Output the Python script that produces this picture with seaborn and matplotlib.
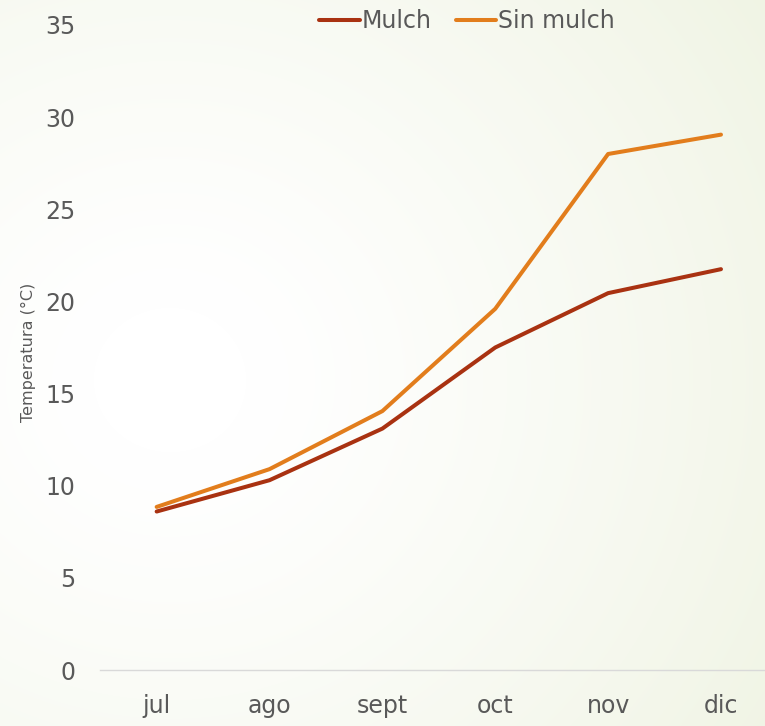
import numpy as np
import pandas as pd
import matplotlib
matplotlib.use("Agg")
import matplotlib.pyplot as plt
import seaborn as sns

months = ["jul", "ago", "sept", "oct", "nov", "dic"]
mulch = [8.6, 10.3, 13.1, 17.5, 20.45, 21.75]
sin_mulch = [8.85, 10.9, 14.05, 19.6, 28.0, 29.05]
series_names = ["Mulch", "Sin mulch"]
colors = ["#A93211", "#E27D1C"]

df = pd.DataFrame({"mes": months * 2,
                   "valor": mulch + sin_mulch,
                   "serie": [series_names[0]] * 6 + [series_names[1]] * 6})
df["x"] = list(range(6)) * 2

sns.set_theme(style="white")
plt.rcParams["font.family"] = ["DejaVu Sans"]

W, H = 765, 726
fig = plt.figure(figsize=(W / 100, H / 100), dpi=100)

# background gradient
bg = fig.add_axes([0, 0, 1, 1], zorder=-10)
yy, xx = np.mgrid[0:H, 0:W]
d = np.sqrt(((xx - 170) / W) ** 2 + ((yy - 380) / H) ** 2)
t = np.clip((d - 0.1) / 0.85, 0, 1) ** 1.2
c0 = np.array([1.0, 1.0, 1.0])
c1 = np.array([0xF0, 0xF4, 0xE4]) / 255
img = c0[None, None, :] * (1 - t[..., None]) + c1[None, None, :] * t[..., None]
bg.imshow(img, aspect="auto", extent=[0, 1, 0, 1])
bg.axis("off")

ax = fig.add_axes([0.131, 0.0771, 0.869, 0.8885])
ax.patch.set_alpha(0)
sns.lineplot(data=df, x="x", y="valor", hue="serie", palette=colors,
             linewidth=2.9, ax=ax, legend=True)
for ln in ax.lines:
    ln.set_solid_capstyle("round")

ax.set_xlim(-0.5, 5.39)
ax.set_ylim(0, 35)
ax.set_yticks(range(0, 36, 5))
ax.set_xticks(range(6))
ax.set_xticklabels(months)
ax.tick_params(axis="both", colors="#595959", labelsize=17, length=0)
ax.tick_params(axis="y", pad=18)
ax.tick_params(axis="x", pad=17)
ax.set_xlabel("")
ax.set_ylabel("")
fig.text(28 / W, 1 - 352 / H, "Temperatura (°C)", rotation=90, ha="center",
         va="center", color="#595959", fontsize=11.5)
for s in ["top", "right", "left"]:
    ax.spines[s].set_visible(False)
ax.spines["bottom"].set_color("#D9D9D9")
ax.spines["bottom"].set_linewidth(1.0)

leg = ax.legend(loc="upper center", bbox_to_anchor=(0.552, 1.058), ncol=2,
                frameon=False, fontsize=17, handlelength=1.7, columnspacing=1.0,
                handletextpad=0.1, labelcolor="#595959")
for h in leg.get_lines():
    h.set_linewidth(2.9)

fig.savefig("out.png", dpi=100)
